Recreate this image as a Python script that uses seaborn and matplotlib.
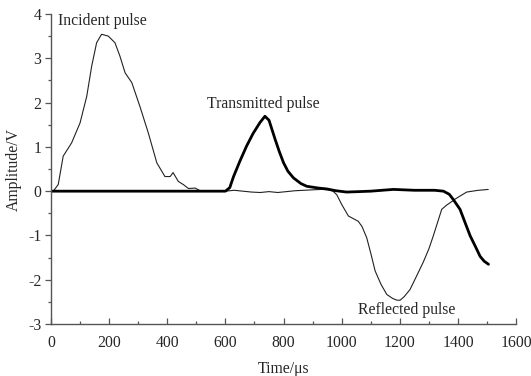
import matplotlib
matplotlib.use("Agg")
import matplotlib.pyplot as plt
from matplotlib.ticker import MultipleLocator
import pandas as pd
import seaborn as sns

# Bar signal: incident + reflected pulse (thin trace)
t_bar = [0, 8, 25, 42, 71, 100, 123, 140, 157, 174, 197, 220, 237, 255, 278,
         306, 335, 364, 392, 410, 420, 438, 455, 473, 496, 513, 540, 570, 600,
         630, 660, 690, 720, 750, 780, 810, 840, 870, 900, 930, 955, 970, 983,
         1000, 1023, 1040, 1057, 1070, 1086, 1100, 1115, 1135, 1155, 1175, 1190,
         1201, 1215, 1235, 1255, 1280, 1300, 1315, 1330, 1344, 1360, 1373, 1390,
         1407, 1430, 1450, 1470, 1490, 1504]
v_bar = [0.0, 0.0, 0.15, 0.79, 1.09, 1.54, 2.14, 2.82, 3.35, 3.54, 3.50, 3.35,
         3.05, 2.67, 2.45, 1.91, 1.31, 0.64, 0.33, 0.33, 0.42, 0.22, 0.15, 0.06,
         0.07, 0.01, 0.0, 0.01, 0.0, 0.02, 0.0, -0.02, -0.03, -0.01, -0.03,
         -0.01, 0.01, 0.02, 0.03, 0.04, 0.03, 0.0, -0.08, -0.30, -0.56, -0.62,
         -0.68, -0.80, -1.05, -1.40, -1.80, -2.10, -2.33, -2.42, -2.46, -2.46,
         -2.38, -2.22, -1.95, -1.61, -1.30, -1.01, -0.70, -0.41, -0.32, -0.26,
         -0.18, -0.11, -0.02, 0.0, 0.02, 0.03, 0.04]

# Transmitted pulse (thick trace)
t_tr = [0, 100, 200, 300, 400, 500, 600, 615, 628, 650, 673, 695, 719, 736,
        750, 771, 785, 800, 815, 834, 860, 880, 920, 949, 980, 1017, 1060, 1100,
        1178, 1250, 1320, 1350, 1370, 1384, 1407, 1425, 1442, 1460, 1476, 1490,
        1505]
v_tr = [0.0, 0.0, 0.0, 0.0, 0.0, 0.0, 0.0, 0.08, 0.33, 0.68, 1.02, 1.30, 1.55,
        1.69, 1.60, 1.17, 0.90, 0.64, 0.45, 0.30, 0.17, 0.11, 0.07, 0.05, 0.01,
        -0.02, -0.01, 0.0, 0.04, 0.02, 0.02, 0.0, -0.07, -0.19, -0.41, -0.72,
        -1.01, -1.25, -1.47, -1.58, -1.65]

x_ticks = [0, 200, 400, 600, 800, 1000, 1200, 1400, 1600]
y_ticks = [-3, -2, -1, 0, 1, 2, 3, 4]

sns.set_style("ticks")
plt.rcParams["font.family"] = ["Liberation Serif", "DejaVu Serif"]
plt.rcParams["axes.unicode_minus"] = False

df_bar = pd.DataFrame({"t": t_bar, "v": v_bar})
df_tr = pd.DataFrame({"t": t_tr, "v": v_tr})

fig = plt.figure(figsize=(5.31, 3.76), dpi=100)
ax = fig.add_axes([0.096, 0.138, 0.876, 0.825])

sns.lineplot(data=df_bar, x="t", y="v", ax=ax, color="#222222", linewidth=0.8,
             estimator=None, sort=False)
sns.lineplot(data=df_tr, x="t", y="v", ax=ax, color="black", linewidth=2.0,
             estimator=None, sort=False)

fs = 11.3
ax.set_xlim(0, 1600)
ax.set_ylim(-3, 4)
ax.set_xticks(x_ticks)
ax.set_yticks(y_ticks)
ax.xaxis.set_minor_locator(MultipleLocator(100))
ax.yaxis.set_minor_locator(MultipleLocator(0.5))
ax.tick_params(axis="x", which="both", direction="in", labelsize=fs,
               color="#555555", pad=8)
ax.tick_params(axis="y", which="both", direction="out", labelsize=fs,
               color="#555555", pad=3)
ax.tick_params(which="major", length=4, width=0.9)
ax.tick_params(which="minor", length=2.5, width=0.9)
for side in ["top", "right"]:
    ax.spines[side].set_visible(False)
for side in ["left", "bottom"]:
    ax.spines[side].set_color("#555555")
    ax.spines[side].set_linewidth(1.0)

ax.set_xlabel("Time/\u03bcs", fontsize=fs, labelpad=7)
ax.set_ylabel("Amplitude/V", fontsize=fs, labelpad=4)

ax.text(25, 3.83, "Incident pulse", fontsize=fs, va="center", ha="left")
ax.text(537, 1.96, "Transmitted pulse", fontsize=fs, va="center", ha="left")
ax.text(1057, -2.69, "Reflected pulse", fontsize=fs, va="center", ha="left")

fig.savefig("out.png", dpi=100)
